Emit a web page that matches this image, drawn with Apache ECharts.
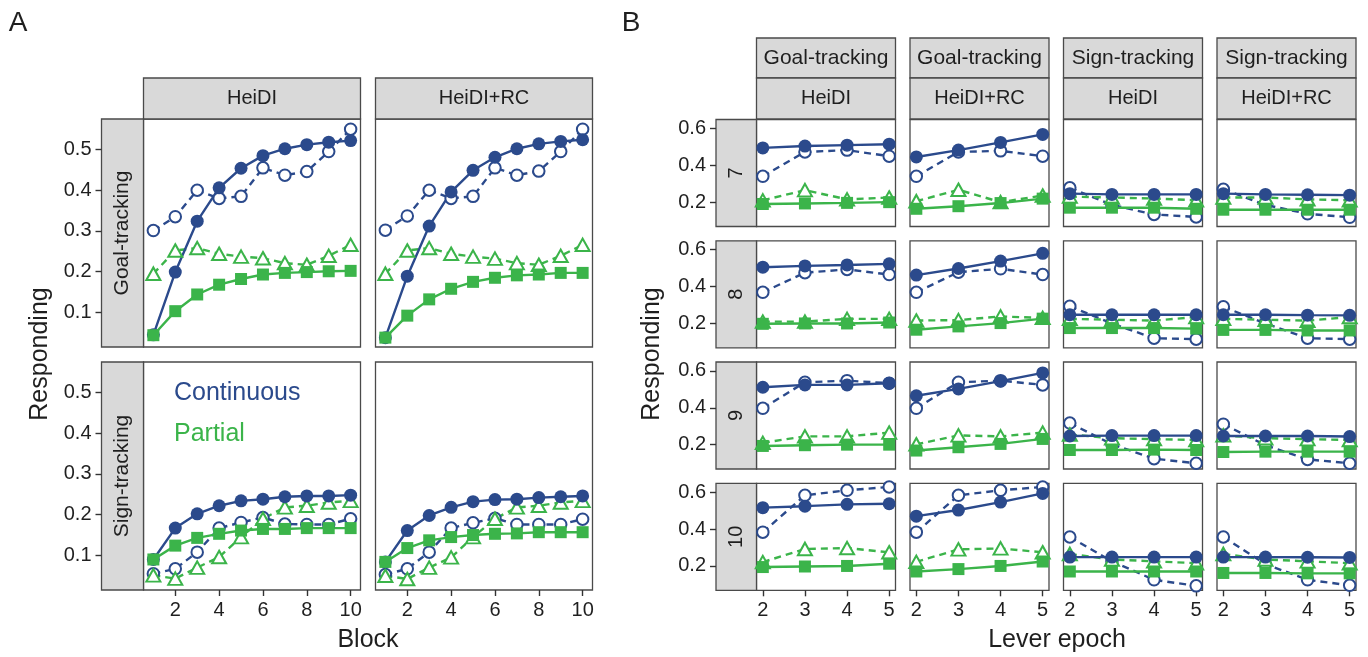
<!DOCTYPE html>
<html><head><meta charset="utf-8">
<script src="https://cdn.jsdelivr.net/npm/echarts@6/dist/echarts.min.js"></script>
<style>html,body{margin:0;padding:0;background:#fff}#c{width:1368px;height:657px}</style>
</head><body><div id="c"></div>
<script>
// ---------- DATA ----------
const blocks = [1, 2, 3, 4, 5, 6, 7, 8, 9, 10];
const epochs = [2, 3, 4, 5];
const aColLabels = ['HeiDI', 'HeiDI+RC'];
const aRowLabels = ['Goal-tracking', 'Sign-tracking'];
const bColGroups = ['Goal-tracking', 'Goal-tracking', 'Sign-tracking', 'Sign-tracking'];
const bColModels = ['HeiDI', 'HeiDI+RC', 'HeiDI', 'HeiDI+RC'];
const bRowLabels = ['7', '8', '9', '10'];
const aXTicks = [2, 4, 6, 8, 10];
const aYTicks = [0.1, 0.2, 0.3, 0.4, 0.5];
const bXTicks = [2, 3, 4, 5];
const bYTicks = [0.2, 0.4, 0.6];
const legendLabels = ['Continuous', 'Partial'];

// Panel A: Goal-tracking / HeiDI
const aGtHeidiContModel = [0.045, 0.199, 0.324, 0.406, 0.454, 0.485, 0.502, 0.512, 0.518, 0.522];
const aGtHeidiContData  = [0.301, 0.335, 0.400, 0.380, 0.385, 0.455, 0.437, 0.446, 0.495, 0.550];
const aGtHeidiPartModel = [0.044, 0.103, 0.144, 0.168, 0.182, 0.193, 0.197, 0.199, 0.201, 0.202];
const aGtHeidiPartData  = [0.195, 0.252, 0.258, 0.244, 0.237, 0.233, 0.221, 0.217, 0.239, 0.266];
// Panel A: Goal-tracking / HeiDI+RC
const aGtRcContModel = [0.038, 0.189, 0.312, 0.396, 0.449, 0.481, 0.502, 0.514, 0.520, 0.524];
const aGtRcContData  = [0.302, 0.337, 0.400, 0.380, 0.385, 0.455, 0.437, 0.447, 0.495, 0.550];
const aGtRcPartModel = [0.038, 0.092, 0.132, 0.158, 0.175, 0.185, 0.191, 0.193, 0.197, 0.197];
const aGtRcPartData  = [0.195, 0.252, 0.258, 0.244, 0.237, 0.232, 0.221, 0.217, 0.239, 0.266];
// Panel A: Sign-tracking / HeiDI
const aStHeidiContModel = [0.090, 0.167, 0.202, 0.222, 0.234, 0.238, 0.244, 0.246, 0.246, 0.248];
const aStHeidiContData  = [0.055, 0.067, 0.108, 0.167, 0.181, 0.193, 0.177, 0.176, 0.176, 0.190];
const aStHeidiPartModel = [0.090, 0.124, 0.143, 0.153, 0.161, 0.165, 0.165, 0.167, 0.167, 0.167];
const aStHeidiPartData  = [0.051, 0.043, 0.070, 0.096, 0.145, 0.190, 0.218, 0.222, 0.230, 0.234];
// Panel A: Sign-tracking / HeiDI+RC
const aStRcContModel = [0.084, 0.161, 0.198, 0.218, 0.232, 0.237, 0.238, 0.242, 0.244, 0.246];
const aStRcContData  = [0.053, 0.067, 0.108, 0.167, 0.180, 0.191, 0.176, 0.176, 0.176, 0.189];
const aStRcPartModel = [0.084, 0.118, 0.137, 0.145, 0.150, 0.153, 0.154, 0.157, 0.157, 0.157];
const aStRcPartData  = [0.050, 0.042, 0.070, 0.095, 0.145, 0.190, 0.218, 0.222, 0.230, 0.234];

// Panel B (rows = lever 7, 8, 9, 10; values at epochs 2..5)
const bGtHeidiContModel = [[0.494, 0.504, 0.509, 0.514], [0.505, 0.512, 0.517, 0.523], [0.511, 0.524, 0.524, 0.533], [0.516, 0.524, 0.534, 0.537]];
const bGtHeidiContData  = [[0.340, 0.472, 0.482, 0.449], [0.369, 0.475, 0.493, 0.465], [0.397, 0.538, 0.547, 0.533], [0.383, 0.583, 0.610, 0.628]];
const bGtHeidiPartModel = [[0.190, 0.193, 0.196, 0.200], [0.198, 0.200, 0.200, 0.205], [0.193, 0.197, 0.200, 0.200], [0.194, 0.197, 0.200, 0.212]];
const bGtHeidiPartData  = [[0.210, 0.265, 0.215, 0.225], [0.210, 0.210, 0.225, 0.225], [0.210, 0.245, 0.245, 0.265], [0.221, 0.292, 0.297, 0.274]];

const bGtRcContModel = [[0.445, 0.482, 0.524, 0.567], [0.462, 0.498, 0.538, 0.580], [0.465, 0.502, 0.544, 0.589], [0.470, 0.503, 0.546, 0.593]];
const bGtRcContData  = [[0.340, 0.472, 0.478, 0.449], [0.369, 0.478, 0.496, 0.465], [0.397, 0.538, 0.547, 0.524], [0.383, 0.583, 0.610, 0.628]];
const bGtRcPartModel = [[0.164, 0.178, 0.195, 0.219], [0.166, 0.184, 0.202, 0.226], [0.168, 0.186, 0.204, 0.231], [0.170, 0.183, 0.200, 0.224]];
const bGtRcPartData  = [[0.205, 0.267, 0.200, 0.236], [0.216, 0.218, 0.238, 0.230], [0.202, 0.250, 0.245, 0.265], [0.222, 0.290, 0.295, 0.274]];

const bStHeidiContModel = [[0.246, 0.242, 0.242, 0.242], [0.247, 0.247, 0.247, 0.247], [0.247, 0.249, 0.249, 0.249], [0.248, 0.248, 0.248, 0.248]];
const bStHeidiContData  = [[0.278, 0.185, 0.133, 0.120], [0.293, 0.200, 0.120, 0.115], [0.317, 0.202, 0.124, 0.099], [0.357, 0.225, 0.125, 0.092]];
const bStHeidiPartModel = [[0.170, 0.170, 0.170, 0.164], [0.175, 0.175, 0.175, 0.172], [0.171, 0.171, 0.173, 0.171], [0.170, 0.170, 0.170, 0.170]];
const bStHeidiPartData  = [[0.230, 0.225, 0.220, 0.210], [0.225, 0.220, 0.215, 0.235], [0.255, 0.235, 0.230, 0.225], [0.265, 0.235, 0.225, 0.215]];

const bStRcContModel = [[0.246, 0.242, 0.240, 0.238], [0.247, 0.247, 0.245, 0.244], [0.247, 0.247, 0.247, 0.244], [0.248, 0.248, 0.247, 0.246]];
const bStRcContData  = [[0.270, 0.185, 0.137, 0.118], [0.290, 0.200, 0.120, 0.115], [0.311, 0.197, 0.120, 0.099], [0.357, 0.210, 0.125, 0.095]];
const bStRcPartModel = [[0.159, 0.159, 0.159, 0.159], [0.165, 0.165, 0.162, 0.162], [0.160, 0.162, 0.162, 0.162], [0.162, 0.162, 0.160, 0.160]];
const bStRcPartData  = [[0.225, 0.225, 0.215, 0.210], [0.225, 0.220, 0.215, 0.235], [0.250, 0.235, 0.230, 0.225], [0.265, 0.235, 0.225, 0.215]];

// ---------- STYLE / LAYOUT ----------
const BLUE = '#2b4a8c', GREEN = '#3bb44a';
const FONT = '"Liberation Sans", Arial, Helvetica, sans-serif';
const TXT = '#1f1f1f', BORDER = '#4a4a4a', STRIP = '#d9d9d9';

const grids = [], xAxes = [], yAxes = [], series = [], graphics = [];

function mkSeries(i, xs, vals, kind) {
  const blue = kind.indexOf('cont') === 0;
  const model = kind.indexOf('Model') > 0;
  const col = blue ? BLUE : GREEN;
  let symbol, size;
  if (model) { symbol = blue ? 'circle' : 'rect'; size = blue ? 13 : 12; }
  else { symbol = blue ? 'emptyCircle' : 'emptyTriangle'; size = blue ? 11.5 : [14, 12.5]; }
  return {
    type: 'line', xAxisIndex: i, yAxisIndex: i,
    data: xs.map((x, k) => [x, vals[k]]),
    symbol: symbol, symbolSize: size, showSymbol: true, clip: false, silent: true,
    animation: false,
    lineStyle: { color: col, width: 2.4, type: model ? 'solid' : [7, 5] },
    itemStyle: { color: col, borderColor: col, borderWidth: model ? 0 : 1.7 },
    emphasis: { disabled: true }
  };
}

function addPanel(p) {
  const i = grids.length;
  grids.push({ left: p.x, top: p.y, width: p.w, height: p.h, show: true,
    borderColor: BORDER, borderWidth: 1.3, backgroundColor: '#fff' });
  xAxes.push({ type: 'value', gridIndex: i, min: p.xmin, max: p.xmax,
    splitLine: { show: false }, axisLine: { show: false },
    axisTick: { show: p.showX, length: 6, customValues: p.xticks, lineStyle: { color: '#333', width: 1.4 } },
    axisLabel: { show: p.showX, customValues: p.xticks, margin: 10, fontSize: 20, color: TXT, fontFamily: FONT } });
  yAxes.push({ type: 'value', gridIndex: i, min: p.ymin, max: p.ymax, offset: p.yOffset,
    splitLine: { show: false }, axisLine: { show: false },
    axisTick: { show: p.showY, length: 6, customValues: p.yticks, lineStyle: { color: '#333', width: 1.4 } },
    axisLabel: { show: p.showY, customValues: p.yticks, margin: 10, fontSize: 20, color: TXT, fontFamily: FONT } });
  // drawing order: data (open) first, then model (filled)
  series.push(mkSeries(i, p.xs, p.contData, 'contData'));
  series.push(mkSeries(i, p.xs, p.partData, 'partData'));
  series.push(mkSeries(i, p.xs, p.contModel, 'contModel'));
  series.push(mkSeries(i, p.xs, p.partModel, 'partModel'));
}

function strip(x, y, w, h, text, rotated, fs) {
  graphics.push({ type: 'rect', silent: true, shape: { x: x, y: y, width: w, height: h },
    style: { fill: STRIP, stroke: BORDER, lineWidth: 1.3 } });
  graphics.push({ type: 'text', silent: true, x: x + w / 2, y: y + h / 2,
    rotation: rotated ? Math.PI / 2 : 0,
    style: { text: text, fill: TXT, fontSize: fs || 19, fontFamily: FONT, align: 'center', verticalAlign: 'middle' } });
}
function label(x, y, text, fs, color, align, rot) {
  graphics.push({ type: 'text', silent: true, x: x, y: y, rotation: rot || 0,
    style: { text: text, fill: color || TXT, fontSize: fs, fontFamily: FONT, align: align || 'center', verticalAlign: 'middle' } });
}

// ---- Panel A ----
const aData = [
  [[aGtHeidiContModel, aGtHeidiContData, aGtHeidiPartModel, aGtHeidiPartData],
   [aGtRcContModel, aGtRcContData, aGtRcPartModel, aGtRcPartData]],
  [[aStHeidiContModel, aStHeidiContData, aStHeidiPartModel, aStHeidiPartData],
   [aStRcContModel, aStRcContData, aStRcPartModel, aStRcPartData]]
];
const aColX = [143.5, 375.5], aRowY = [119, 362], aW = 217, aH = 228, aStripW = 42;
for (let r = 0; r < 2; r++) {
  for (let c = 0; c < 2; c++) {
    const d = aData[r][c];
    addPanel({ x: aColX[c], y: aRowY[r], w: aW, h: aH, xmin: 0.55, xmax: 10.45, ymin: 0.015, ymax: 0.575,
      xs: blocks, contModel: d[0], contData: d[1], partModel: d[2], partData: d[3],
      showX: r === 1, showY: c === 0, xticks: aXTicks, yticks: aYTicks, yOffset: c === 0 ? aStripW : 0 });
  }
}
for (let c = 0; c < 2; c++) strip(aColX[c], 78, aW, 41, aColLabels[c], false, 20);
for (let r = 0; r < 2; r++) strip(aColX[0] - aStripW, aRowY[r], aStripW, aH, aRowLabels[r], true, 21);

// ---- Panel B ----
const bData = [
  [bGtHeidiContModel, bGtHeidiContData, bGtHeidiPartModel, bGtHeidiPartData],
  [bGtRcContModel, bGtRcContData, bGtRcPartModel, bGtRcPartData],
  [bStHeidiContModel, bStHeidiContData, bStHeidiPartModel, bStHeidiPartData],
  [bStRcContModel, bStRcContData, bStRcPartModel, bStRcPartData]
];
const bColX = [756.5, 910, 1063.5, 1217], bRowY = [119.5, 240.8, 362, 483.3], bW = 139, bH = 107, bStripW = 40.5;
for (let r = 0; r < 4; r++) {
  for (let c = 0; c < 4; c++) {
    const d = bData[c];
    addPanel({ x: bColX[c], y: bRowY[r], w: bW, h: bH, xmin: 1.85, xmax: 5.15, ymin: 0.068, ymax: 0.648,
      xs: epochs, contModel: d[0][r], contData: d[1][r], partModel: d[2][r], partData: d[3][r],
      showX: r === 3, showY: c === 0, xticks: bXTicks, yticks: bYTicks, yOffset: c === 0 ? bStripW : 0 });
  }
}
for (let c = 0; c < 4; c++) {
  strip(bColX[c], 38, bW, 40, bColGroups[c], false, 21);
  strip(bColX[c], 78, bW, 41, bColModels[c], false, 20);
}
for (let r = 0; r < 4; r++) strip(bColX[0] - bStripW, bRowY[r], bStripW, bH, bRowLabels[r], true, 20);

// ---- titles / annotations ----
label(18, 23, 'A', 28);
label(631, 23, 'B', 28);
label(40, 354, 'Responding', 25, TXT, 'center', Math.PI / 2);
label(652, 354, 'Responding', 25, TXT, 'center', Math.PI / 2);
label(368, 640, 'Block', 25);
label(1057, 640, 'Lever epoch', 25);
label(174, 393, legendLabels[0], 25, BLUE, 'left');
label(174, 434, legendLabels[1], 25, GREEN, 'left');

const chart = echarts.init(document.getElementById('c'), null, { renderer: 'canvas' });
chart.setOption({
  animation: false,
  backgroundColor: '#fff',
  grid: grids, xAxis: xAxes, yAxis: yAxes, series: series,
  graphic: graphics
});
</script>
</body></html>
